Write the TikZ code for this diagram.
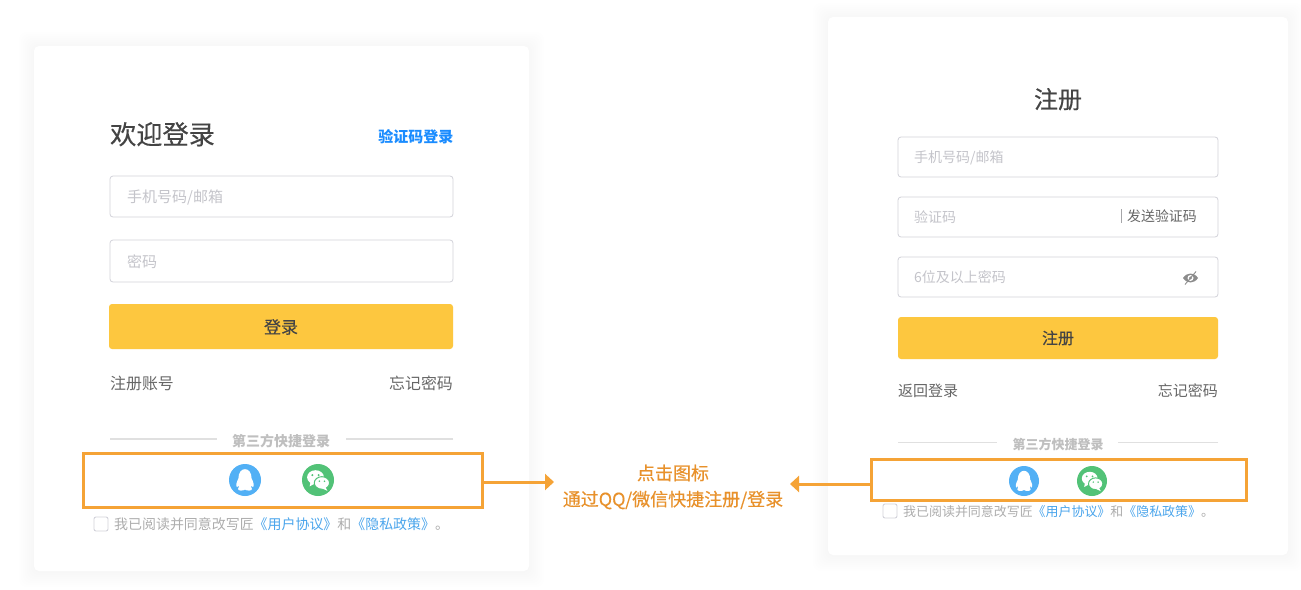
\documentclass[tikz,border=0pt]{standalone}
\usepackage{fontspec}
\usepackage{xcolor}
\usetikzlibrary{positioning, arrows.meta}
\setmainfont{Noto Sans CJK SC}
\newfontfamily\medfont[FakeBold=0.35]{Noto Sans CJK SC}

\definecolor{cardshade}{HTML}{8A8F99}
\definecolor{boxline}{HTML}{D2D2DA}
\definecolor{holdertext}{HTML}{C4C4CA}
\definecolor{darktext}{HTML}{444444}
\definecolor{softtext}{HTML}{666666}
\definecolor{btnyellow}{HTML}{FDC73F}
\definecolor{linkblue}{HTML}{1A8CFF}
\definecolor{agreeblue}{HTML}{4AA5EC}
\definecolor{markorange}{HTML}{F5A336}
\definecolor{hintorange}{HTML}{E8912B}
\definecolor{qqblue}{HTML}{52B0F5}
\definecolor{wxgreen}{HTML}{52C277}

\newcommand{\fsize}[1]{\fontsize{#1pt}{#1pt}\selectfont}

\tikzset{
    x=1pt, y=-1pt,
    inputbox/.style={draw=boxline, line width=0.8pt, rounded corners=3pt, fill=white, anchor=north west, inner sep=0pt, outer sep=0pt},
    yellowbtn/.style={fill=btnyellow, rounded corners=3pt, anchor=north west, inner sep=0pt, outer sep=0pt},
    holder/.style={text=holdertext, anchor=west, inner sep=0pt},
    plain/.style={text=softtext, inner sep=0pt},
    thirdline/.style={draw=black!12, line width=1.2pt},
    thirdtext/.style={text=black!25, inner sep=0pt},
    markbox/.style={draw=markorange, line width=3pt, anchor=north west, inner sep=0pt, outer sep=0pt},
    flowarrow/.style={draw=markorange, line width=3pt, -{Triangle[length=9pt, width=16pt]}},
    tickbox/.style={draw=boxline, line width=0.9pt, rounded corners=2pt, anchor=north west, inner sep=0pt, outer sep=0pt, minimum size=14pt},
    agree/.style={text=black!32, anchor=west, inner sep=0pt},
    iconround/.style={circle, inner sep=0pt, outer sep=0pt},
    qqface/.pic={
        \fill[white] (-6.6,-1.5) .. controls (-6.6,-14) and (6.6,-14) .. (6.6,-1.5)
            .. controls (8.5,2) and (9.5,6) .. (8,7) .. controls (7,7) and (6.5,6) .. (6,5)
            .. controls (6,7.5) and (6.5,8) .. (7,9) .. controls (7,11) and (2,11) .. (0,9.6)
            .. controls (-2,11) and (-7,11) .. (-7,9) .. controls (-6.5,8) and (-6,7.5) .. (-6,5)
            .. controls (-6.5,6) and (-7,7) .. (-8,7) .. controls (-9.5,6) and (-8.5,2) .. (-6.6,-1.5) -- cycle;
    },
    wxface/.pic={
        \fill[white] (-2.5,-2.8) ellipse (8.6 and 7.2);
        \fill[white] (-7.5,1.5) -- (-8.5,6.5) -- (-3,3.5) -- cycle;
        \draw[wxgreen, line width=1pt, fill=white] (4,3) ellipse (7.8 and 6.4);
        \fill[white] (7.5,7) -- (9.5,11) -- (4,8.5) -- cycle;
        \fill[wxgreen] (-5.8,-5) circle (1.1) (0.6,-5) circle (1.1) (1.4,1.2) circle (0.9) (6.6,1.2) circle (0.9);
    },
}

\begin{document}
\begin{tikzpicture}
    \useasboundingbox (0,0) rectangle (1301,589);
    \fill[white] (0,0) rectangle (1301,589);

    % soft shadow round the two cards
    \foreach \s in {1,3,...,15} {
        \fill[cardshade, opacity=0.006, rounded corners=8pt] (34-\s,46-\s+1) rectangle (529+\s,571+\s+1);
        \fill[cardshade, opacity=0.006, rounded corners=8pt] (828-\s,17-\s+1) rectangle (1288+\s,555+\s+1);
    }
    \fill[white, rounded corners=5pt] (34,46) rectangle (529,571);
    \fill[white, rounded corners=5pt] (828,17) rectangle (1288,555);

    % left card
    \node[text=darktext, inner sep=0pt, font=\medfont\fsize{26.2}] (loginTitle) at (162.5,134.2) {欢迎登录};
    \node[text=linkblue, inner sep=0pt, anchor=east, font=\fsize{15}\bfseries] (loginSwitch) at (453.5,136.5) {验证码登录};
    \node[inputbox, minimum width=343pt, minimum height=41pt] (loginUser) at (110,176) {};
    \node[holder, font=\fsize{15}] (loginUserText) at (127,197.5) {手机号码/邮箱};
    \node[inputbox, minimum width=343pt, minimum height=42pt] (loginPass) at (110,240) {};
    \node[holder, font=\fsize{15}] (loginPassText) at (127,261.5) {密码};
    \node[yellowbtn, minimum width=344pt, minimum height=45pt] (loginBtn) at (109,304) {};
    \node[text=darktext, inner sep=0pt, font=\medfont\fsize{17}] (loginBtnText) at (281,327) {登录};
    \node[plain, anchor=west, font=\fsize{15.9}] (loginReg) at (110,383.5) {注册账号};
    \node[plain, anchor=east, font=\fsize{15.9}] (loginForget) at (453,383.5) {忘记密码};
    \node[thirdtext, font=\fsize{14}\bfseries] (loginThird) at (281,441.5) {第三方快捷登录};
    \coordinate (loginLineA) at (110,439);
    \coordinate (loginLineB) at (453,439);
    \draw[thirdline] (loginLineA) -- (loginLineA -| 217,0);
    \draw[thirdline] (loginLineB) -- (loginLineB -| 346,0);
    \node[iconround, fill=qqblue, minimum size=32pt] (loginQQ) at (245,480) {};
    \node[iconround, fill=wxgreen, minimum size=32pt] (loginWx) at (318,480) {};
    \pic at (loginQQ) {qqface};
    \pic[scale=0.98] at (loginWx) {wxface};
    \node[markbox, minimum width=399pt, minimum height=54pt] (loginMark) at (83.5,453.5) {};
    \node[tickbox] (loginTick) at (94,517) {};
    \node[agree, font=\fsize{13.95}] (loginAgree) at (114,524.5) {我已阅读并同意改写匠\textcolor{agreeblue}{《用户协议》}和\textcolor{agreeblue}{《隐私政策》}。};

    % right card
    \node[text=darktext, inner sep=0pt, font=\medfont\fsize{24}] (regTitle) at (1058,99.2) {注册};
    \node[inputbox, minimum width=320pt, minimum height=40pt] (regUser) at (898,137) {};
    \node[holder, font=\fsize{14}] (regUserText) at (914,157.5) {手机号码/邮箱};
    \node[inputbox, minimum width=320pt, minimum height=40pt] (regCode) at (898,197) {};
    \node[holder, font=\fsize{14}] (regCodeText) at (914,217) {验证码};
    \node[plain, anchor=west, font=\fsize{13.9}] (regSend) at (1127,216) {发送验证码};
    \draw[boxline!60!black!70, line width=0.8pt] (regSend.west) ++(-6,-7) -- ++(0,14);
    \node[inputbox, minimum width=320pt, minimum height=40pt] (regPass) at (898,257) {};
    \node[holder, font=\fsize{14}] (regPassText) at (914,277) {6位及以上密码};
    % crossed eye
    \fill[black!45] (1183,278) .. controls (1187,272) and (1194,272) .. (1198,278) .. controls (1194,284) and (1187,284) .. (1183,278) -- cycle;
    \fill[white] (1190.5,278) circle (3);
    \fill[black!45] (1190.5,278) circle (1.6);
    \draw[black!45, line width=0.9pt] (1196,271.5) -- (1185,284.5);
    \node[yellowbtn, minimum width=320pt, minimum height=42pt] (regBtn) at (898,317) {};
    \node[text=darktext, inner sep=0pt, font=\medfont\fsize{16}] (regBtnText) at (1058,338) {注册};
    \node[plain, anchor=west, font=\fsize{15}] (regBack) at (898,390.5) {返回登录};
    \node[plain, anchor=east, font=\fsize{15}] (regForget) at (1218,390.5) {忘记密码};
    \node[thirdtext, font=\fsize{13}\bfseries] (regThird) at (1058,444.5) {第三方快捷登录};
    \coordinate (regLineA) at (898,442.5);
    \coordinate (regLineB) at (1218,442.5);
    \draw[thirdline] (regLineA) -- (regLineA -| 997,0);
    \draw[thirdline] (regLineB) -- (regLineB -| 1118,0);
    \node[iconround, fill=qqblue, minimum size=30pt] (regQQ) at (1024,481) {};
    \node[iconround, fill=wxgreen, minimum size=30pt] (regWx) at (1092,481) {};
    \pic[scale=0.94] at (regQQ) {qqface};
    \pic[scale=0.92] at (regWx) {wxface};
    \node[markbox, minimum width=375pt, minimum height=41pt] (regMark) at (871.5,459.5) {};
    \node[tickbox] (regTick) at (883,504) {};
    \node[agree, font=\fsize{12.95}] (regAgree) at (903,511.5) {我已阅读并同意改写匠\textcolor{agreeblue}{《用户协议》}和\textcolor{agreeblue}{《隐私政策》}。};

    % hint in the middle
    \node[text=hintorange, inner sep=0pt, font=\medfont\fsize{18}] (hintTop) at (673,473) {点击图标};
    \node[text=hintorange, inner sep=0pt, font=\medfont\fsize{18}] (hintBottom) at (673,500) {通过QQ/微信快捷注册/登录};
    \coordinate (tipLeft) at (554,482);
    \coordinate (tipRight) at (790,484);
    \draw[flowarrow] (tipLeft -| loginMark.east) -- (tipLeft);
    \draw[flowarrow] (tipRight -| regMark.west) -- (tipRight);
\end{tikzpicture}
\end{document}
